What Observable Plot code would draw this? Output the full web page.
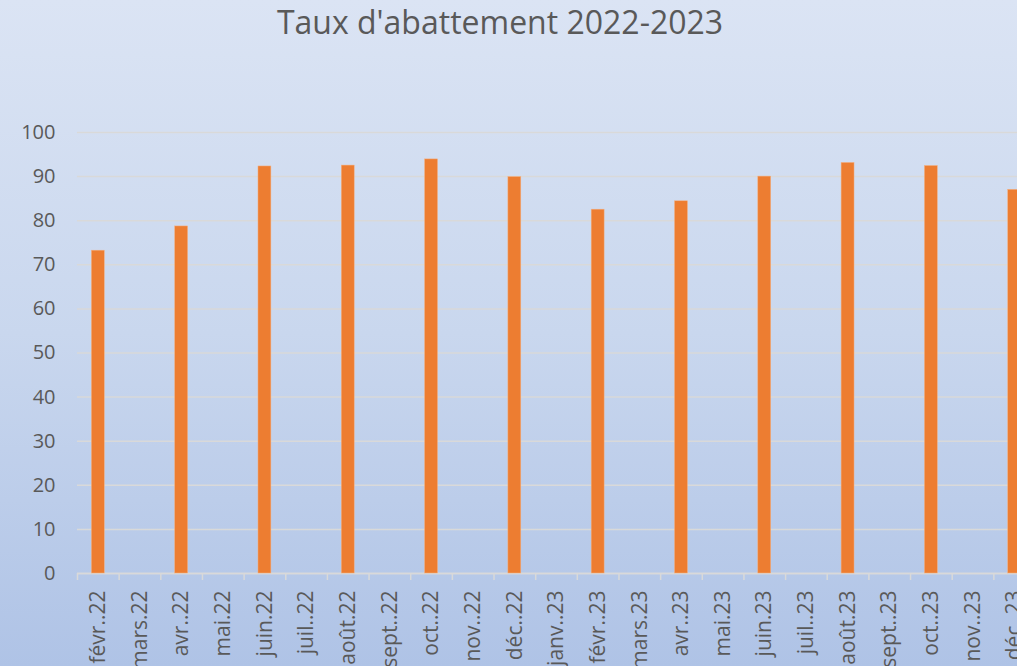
<!DOCTYPE html>
<html>
<head>
<meta charset="utf-8">
<script src="https://cdn.jsdelivr.net/npm/d3@7"></script>
<script src="https://cdn.jsdelivr.net/npm/@observablehq/plot@0.6"></script>
<style>
  html, body { margin: 0; padding: 0; }
  body {
    width: 1017px; height: 666px; overflow: hidden; position: relative;
    background: linear-gradient(to bottom, #dbe4f4 0%, #c9d7ee 50%, #afc3e6 100%);
    font-family: "Open Sans", sans-serif;
  }
  #title {
    position: absolute; left: 0; top: 0; width: 1000px; text-align: center;
    font-size: 32px; color: #595959; line-height: 44px;
  }
  #chart { position: absolute; left: 0; top: 60px; width: 1040px; }
  #chart svg { max-width: none !important; }
</style>
</head>
<body>
<div id="title">Taux d'abattement 2022-2023</div>
<div id="chart"></div>
<script>
const months = ["févr..22","mars.22","avr..22","mai.22","juin.22","juil..22","août.22","sept..22","oct..22","nov..22","déc..22","janv..23","févr..23","mars.23","avr..23","mai.23","juin.23","juil..23","août.23","sept..23","oct..23","nov..23","déc..23"];
const values = [73.2, null, 78.7, null, 92.3, null, 92.5, null, 93.9, null, 89.9, null, 82.5, null, 84.4, null, 90.0, null, 93.1, null, 92.4, null, 87.0];
const yTicks = [0,10,20,30,40,50,60,70,80,90,100];

const data = months.map((m, i) => ({month: m, value: values[i]})).filter(d => d.value != null);

const width = 1040, height = 606;
const marginLeft = 77, marginRight = 5;
const step = (width - marginLeft - marginRight) / months.length;

const chart = Plot.plot({
  width, height,
  marginLeft, marginRight, marginTop: 72, marginBottom: 93,
  style: {background: "transparent", fontFamily: "'Open Sans', sans-serif", color: "#595959", overflow: "visible", maxWidth: "none"},
  x: {domain: months, paddingInner: 0.69, paddingOuter: 0.345, align: 0.5, round: false, label: null},
  y: {domain: [0, 100], label: null},
  marks: [
    Plot.gridY(yTicks, {stroke: "#d9d9d9", strokeOpacity: 1, strokeWidth: 1.5}),
    Plot.axisY(yTicks, {tickSize: 0, tickPadding: 22, fontSize: 20, fill: "#595959", label: null}),
    Plot.ruleY([0], {stroke: "#d9d9d9", strokeWidth: 1.5}),
    Plot.axisX({tickFormat: null, tickSize: 7, stroke: "#d9d9d9", strokeWidth: 1.5, dx: -step / 2, label: null}),
    Plot.axisX({tickSize: 0, tickPadding: 17, tickRotate: -90, fontSize: 21, fill: "#595959", label: null}),
    Plot.barY(data, {x: "month", y: "value", fill: "#ed7d31", stroke: "#f4b183", strokeWidth: 0.5})
  ]
});
document.getElementById("chart").appendChild(chart);
</script>
</body>
</html>
